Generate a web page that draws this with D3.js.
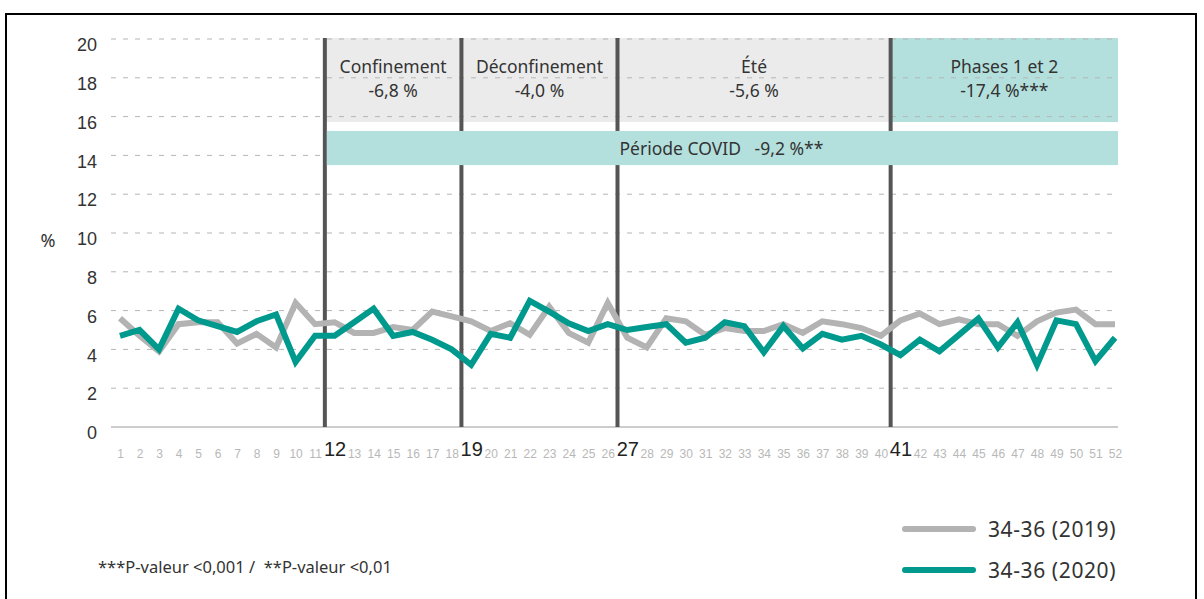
<!DOCTYPE html>
<html lang="fr">
<head>
<meta charset="utf-8">
<title>34-36 : 2019 vs 2020</title>
<script src="https://cdn.jsdelivr.net/npm/d3@7"></script>
<style>
  body { margin: 0; background: #fff; }
  svg { font-family: "Noto Sans", "Open Sans", sans-serif; }
  .grid line { stroke: #b5b5b5; stroke-dasharray: 5, 7; }
  .yaxis text { font-size: 18px; fill: #333; }
  .xaxis text { font-size: 12px; fill: #b8b8b8; }
  .xaxis text.big { font-size: 20px; fill: #222; }
  .boxText { font-size: 17.5px; fill: #333; text-anchor: middle; }
  .legend text { font-size: 21px; fill: #333; letter-spacing: 0.6px; }
</style>
</head>
<body>
<script>
// semaines
var weeks = d3.range(1, 53);
var series2019 = [5.6, 4.7, 3.9, 5.3, 5.4, 5.4, 4.3, 4.8, 4.1, 6.4,
                  5.3, 5.4, 4.85, 4.85, 5.15, 5.0, 5.95, 5.7, 5.45, 4.95,
                  5.35, 4.75, 6.2, 4.85, 4.35, 6.4, 4.6, 4.1, 5.6, 5.45,
                  4.75, 5.1, 4.95, 4.95, 5.3, 4.85, 5.45, 5.3, 5.1, 4.7,
                  5.5, 5.85, 5.3, 5.55, 5.3, 5.3, 4.7, 5.45, 5.9, 6.05,
                  5.3, 5.3];
var series2020 = [4.7, 5.0, 4.0, 6.1, 5.5, 5.2, 4.9, 5.45, 5.8, 3.35,
                  4.7, 4.7, 5.4, 6.1, 4.7, 4.9, 4.5, 4.0, 3.2, 4.8,
                  4.6, 6.5, 5.95, 5.35, 4.95, 5.3, 5.0, 5.15, 5.3, 4.35,
                  4.6, 5.4, 5.2, 3.85, 5.2, 4.05, 4.8, 4.5, 4.7, 4.25,
                  3.7, 4.5, 3.9, 4.75, 5.6, 4.1, 5.4, 3.2, 5.5, 5.3,
                  3.4, 4.6];
var yTicks = [0, 2, 4, 6, 8, 10, 12, 14, 16, 18, 20];
var keyWeeks = [12, 19, 27, 41];
var periods = [
  { from: 11.5, to: 18.5, line1: "Confinement", line2: "-6,8 %" },
  { from: 18.5, to: 26.5, line1: "Déconfinement", line2: "-4,0 %" },
  { from: 26.5, to: 40.5, line1: "Été", line2: "-5,6 %" },
  { from: 40.5, to: 52.2, line1: "Phases 1 et 2", line2: "-17,4 %***" }
];
var covidLabel = "Période COVID   -9,2 %**";
var legendLabels = ["34-36 (2019)", "34-36 (2020)"];
var footnote = "***P-valeur <0,001 /  **P-valeur <0,01";

var w = 1204, h = 599;
var gray = "#b3b3b3", teal = "#00998d", lightTeal = "#b3e0dd", boxGray = "#ebebeb";

var svg = d3.select("body").append("svg").attr("width", w).attr("height", h);

// cadre
svg.append("rect")
  .attr("x", 6).attr("y", 14).attr("width", 1190).attr("height", 620)
  .attr("fill", "none").attr("stroke", "#000").attr("stroke-width", 2);

var xScale = d3.scaleLinear().domain([1, 52]).range([120, 1115]);
var yScale = d3.scaleLinear().domain([0, 20]).range([427, 39]);
var x0 = 111, x1 = 1118;

// boites des periodes
periods.forEach(function(p, i) {
  svg.append("rect")
    .attr("x", xScale(p.from)).attr("width", Math.min(xScale(p.to), x1) - xScale(p.from))
    .attr("y", yScale(20.05)).attr("height", yScale(15.72) - yScale(20.05))
    .attr("fill", i === 3 ? lightTeal : boxGray);
  var cx = (xScale(p.from) + Math.min(xScale(p.to), x1)) / 2;
  svg.append("text").attr("class", "boxText").attr("x", cx).attr("y", 73).text(p.line1);
  svg.append("text").attr("class", "boxText").attr("x", cx).attr("y", 97).text(p.line2);
});

// grille
svg.append("g").attr("class", "grid")
  .selectAll("line").data(yTicks.filter(function(d) { return d > 0; }))
  .enter().append("line")
  .attr("x1", x0).attr("x2", x1)
  .attr("y1", function(d) { return yScale(d); })
  .attr("y2", function(d) { return yScale(d); });

svg.append("line")
  .attr("x1", x0).attr("x2", x1)
  .attr("y1", yScale(0)).attr("y2", yScale(0))
  .attr("stroke", "#9a9a9a").attr("stroke-width", 1);

// axe Y
var yAxis = d3.axisLeft(yScale).tickValues(yTicks).tickSize(0).tickPadding(0);
svg.append("g").attr("class", "yaxis")
  .attr("transform", "translate(97,6)")
  .call(yAxis)
  .call(function(g) { g.select(".domain").remove(); });

svg.append("text").attr("x", 48).attr("y", 247)
  .attr("text-anchor", "middle").attr("font-size", 18).attr("fill", "#333").text("%");

// axe X
var xAxis = d3.axisBottom(xScale).tickValues(weeks).tickSize(0).tickPadding(0);
var xg = svg.append("g").attr("class", "xaxis")
  .attr("transform", "translate(0,450)")
  .call(xAxis);
xg.select(".domain").remove();
xg.selectAll(".tick text")
  .classed("big", function(d) { return keyWeeks.indexOf(d) >= 0; })
  .attr("dy", function(d) { return keyWeeks.indexOf(d) >= 0 ? "0.3em" : "0.65em"; });

// lignes verticales
svg.selectAll(".vline").data(periods)
  .enter().append("line")
  .attr("x1", function(d) { return xScale(d.from); })
  .attr("x2", function(d) { return xScale(d.from); })
  .attr("y1", yScale(20.05)).attr("y2", yScale(0))
  .attr("stroke", "#555").attr("stroke-width", 4);

// bande COVID (par-dessus les lignes verticales)
svg.append("rect")
  .attr("x", xScale(11.5) + 2).attr("width", x1 - xScale(11.5) - 2)
  .attr("y", yScale(15.26)).attr("height", yScale(13.5) - yScale(15.26))
  .attr("fill", lightTeal);
svg.append("text").attr("class", "boxText")
  .attr("x", (xScale(11.5) + x1) / 2).attr("y", 155)
  .attr("xml:space", "preserve").style("white-space", "pre")
  .text(covidLabel);

// series
var line = function(vals) {
  return d3.line()
    .x(function(d, i) { return xScale(weeks[i]); })
    .y(function(d) { return yScale(d); })(vals);
};
svg.append("path").attr("d", line(series2019))
  .attr("fill", "none").attr("stroke", gray).attr("stroke-width", 6)
  .attr("stroke-linejoin", "miter");
svg.append("path").attr("d", line(series2020))
  .attr("fill", "none").attr("stroke", teal).attr("stroke-width", 6)
  .attr("stroke-linejoin", "miter");

// legende
var leg = svg.append("g").attr("class", "legend");
[gray, teal].forEach(function(c, i) {
  var ly = 529 + i * 41;
  leg.append("line").attr("x1", 905).attr("x2", 973).attr("y1", ly).attr("y2", ly)
    .attr("stroke", c).attr("stroke-width", 6).attr("stroke-linecap", "round");
  leg.append("text").attr("x", 988).attr("y", ly + 8).text(legendLabels[i]);
});

svg.append("text").attr("x", 98).attr("y", 573)
  .attr("font-size", 16.5).attr("fill", "#333")
  .attr("xml:space", "preserve").style("white-space", "pre")
  .text(footnote);
</script>
</body>
</html>
